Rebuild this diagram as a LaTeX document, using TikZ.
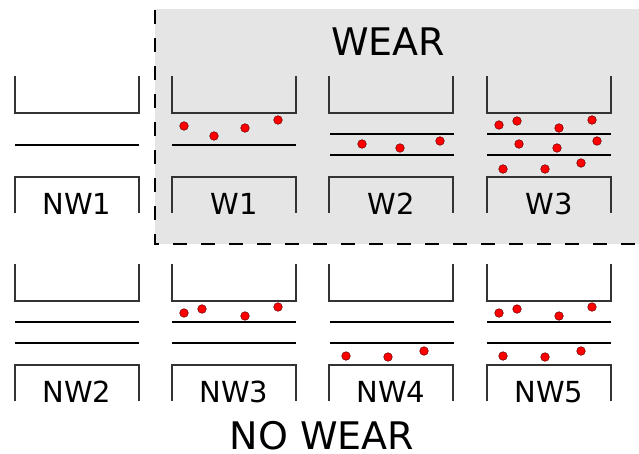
\documentclass[tikz,border=0pt]{standalone}
\usepackage{fontspec}
\setmainfont{DejaVu Sans}
\usepackage{tikz}

\tikzset{
	wall/.style={line width=1.2pt, draw=black!80},
	film/.style={line width=2pt, draw=black},
	grain/.style={fill=red, draw=black!60!red, line width=0.5pt},
	tag/.style={font=\fontsize{29}{29}\selectfont, anchor=base, inner sep=0pt},
	title/.style={font=\fontsize{38}{38}\selectfont, anchor=base, inner sep=0pt}
}

\begin{document}
\begin{tikzpicture}[x=1pt,y=-1pt]
	\useasboundingbox (0,0) rectangle (639,453);
	% wear region
	\fill[black!10] (155,9) rectangle (640,244);
	\draw[line width=2.5pt, dash pattern=on 14pt off 14pt] (155,10) -- (155,244) -- (639,244);
	\node[title] (wear) at (388,55) {WEAR};
	\node[title] (nowear) at (322,449) {NO WEAR};

	% cups and plates of each panel
	\foreach \x in {15,172,329,487}{
		\foreach \y in {0,188}{
			\draw[wall] (\x,76+\y) -- (\x,113+\y) -- (\x+124,113+\y) -- (\x+124,76+\y);
			\draw[wall] (\x,213+\y) -- (\x,177+\y) -- (\x+124,177+\y) -- (\x+124,213+\y);
		}
	}

	% labels
	\node[tag] (nw1) at (77,214) {NW1};
	\node[tag] (w1) at (234,214) {W1};
	\node[tag] (w2) at (391,214) {W2};
	\node[tag] (w3) at (549,214) {W3};
	\node[tag] (nw2) at (77,402) {NW2};
	\node[tag] (nw3) at (234,402) {NW3};
	\node[tag] (nw4) at (391,402) {NW4};
	\node[tag] (nw5) at (549,402) {NW5};

	% films
	\draw[film] (15,145) -- (139,145);
	\draw[film] (172,145) -- (296,145);
	\draw[film] (330,134) -- (454,134);
	\draw[film] (330,155) -- (454,155);
	\draw[film] (487,134) -- (611,134);
	\draw[film] (487,155) -- (611,155);
	\foreach \x in {15,172,330,487}{
		\draw[film] (\x,322) -- (\x+124,322);
		\draw[film] (\x,343) -- (\x+124,343);
	}

	% particles
	\foreach \p in {(184,126),(214,136),(245,128),(278,120),
		(362,144),(400,148),(440,141),
		(499,125),(517,121),(559,128),(592,120),(519,144),(557,148),(597,141),(503,169),(545,169),(581,163),
		(184,313),(202,309),(245,316),(278,307),
		(346,356),(388,357),(424,351),
		(499,313),(517,309),(559,316),(592,307),(503,356),(545,357),(581,351)}
		\draw[grain] \p circle (4.3pt);
\end{tikzpicture}
\end{document}
